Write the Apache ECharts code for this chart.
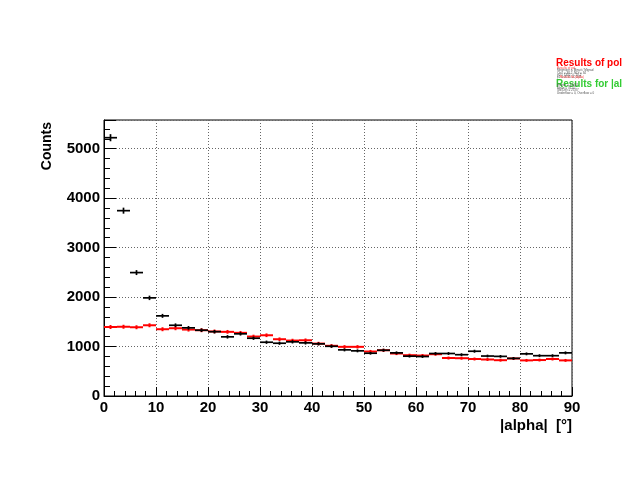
<!DOCTYPE html>
<html>
<head>
<meta charset="utf-8">
<script src="https://cdn.jsdelivr.net/npm/echarts@6/dist/echarts.min.js"></script>
<style>html,body{margin:0;padding:0;background:#fff}#c{width:628px;height:486px}</style>
</head>
<body>
<div id="c"></div>
<script>
// bin centres (|alpha| in degrees, bin width 2.5)
const binCenters = [1.25,3.75,6.25,8.75,11.25,13.75,16.25,18.75,21.25,23.75,26.25,28.75,31.25,33.75,36.25,38.75,41.25,43.75,46.25,48.75,51.25,53.75,56.25,58.75,61.25,63.75,66.25,68.75,71.25,73.75,76.25,78.75,81.25,83.75,86.25,88.75];
const binHalfWidth = 1.25;
// data (black points)
const dataCounts = [5222,3747,2495,1984,1620,1430,1378,1330,1300,1196,1257,1168,1087,1067,1095,1074,1054,1005,933,913,865,925,872,805,798,859,859,835,905,808,801,761,852,815,815,872];
const dataErrors = [72,61,50,45,40,38,37,36,36,35,35,34,33,33,33,33,32,32,31,30,29,30,30,28,28,29,29,29,30,28,28,28,29,29,29,30];
// reference / fit histogram (red)
const refCounts = [1395,1400,1390,1430,1350,1370,1343,1330,1305,1297,1277,1202,1228,1148,1121,1127,1060,1015,994,994,899,925,859,825,818,845,768,764,748,738,724,758,720,727,748,720];
const refErrors = [40,40,40,40,40,40,40,40,38,38,38,37,37,36,36,36,35,34,34,34,32,32,32,31,31,31,30,30,30,30,29,30,29,29,30,29];
const xTicks = [0,10,20,30,40,50,60,70,80,90];
const yTicks = [0,1000,2000,3000,4000,5000];

function errRender(color, width) {
  return function (params, api) {
    const x = api.value(0), y = api.value(1), e = api.value(2);
    const pL = api.coord([x - binHalfWidth, y]);
    const pR = api.coord([x + binHalfWidth, y]);
    const pT = api.coord([x, y + e]);
    const pB = api.coord([x, y - e]);
    return {
      type: 'group',
      children: [
        {type: 'line', shape: {x1: pL[0], y1: pL[1], x2: pR[0], y2: pR[1]}, style: {stroke: color, lineWidth: width}},
        {type: 'line', shape: {x1: pT[0], y1: pT[1], x2: pB[0], y2: pB[1]}, style: {stroke: color, lineWidth: width}}
      ]
    };
  };
}

const chart = echarts.init(document.getElementById('c'), null, {renderer: 'canvas'});
const font = 'Liberation Sans, Arial, Helvetica, sans-serif';
const smallLines1 = ['Minimizer is Minuit / Migrad', 'Chi2 = 38.2, NDf = 34', 'p0 = 1432 +/- 10.2', 'p1 = -8.15 +/- 0.41'];
const smallLines2 = ['Entries = 52431', 'Mean = 31.42', 'Std Dev = 25.87', 'Underflow = 0, Overflow = 0'];

chart.setOption({
  animation: false,
  backgroundColor: '#fff',
  grid: {left: 104, right: 56, top: 120, bottom: 90, show: true, borderColor: '#000', borderWidth: 1, containLabel: false},
  xAxis: {
    type: 'value', min: 0, max: 90, interval: 10,
    axisLine: {show: true, onZero: false, lineStyle: {color: '#000', width: 1}},
    axisTick: {show: true, inside: true, length: 9, lineStyle: {color: '#000'}},
    minorTick: {show: true, splitNumber: 5, length: 5, lineStyle: {color: '#000'}},
    splitLine: {show: true, lineStyle: {color: '#666', type: [1, 2], width: 1}},
    axisLabel: {color: '#000', fontFamily: font, fontWeight: 'bold', fontSize: 15, margin: 4,
      formatter: v => (xTicks.indexOf(v) >= 0 ? String(v) : '')}
  },
  yAxis: {
    type: 'value', min: 0, max: 5580, interval: 1000,
    axisLine: {show: true, onZero: false, lineStyle: {color: '#000', width: 1}},
    axisTick: {show: true, inside: true, length: 12, lineStyle: {color: '#000'}},
    minorTick: {show: true, splitNumber: 5, length: 6, lineStyle: {color: '#000'}},
    splitLine: {show: true, lineStyle: {color: '#666', type: [1, 2], width: 1}},
    axisLabel: {color: '#000', fontFamily: font, fontWeight: 'bold', fontSize: 15, margin: 4, showMaxLabel: false,
      formatter: v => (yTicks.indexOf(v) >= 0 ? String(v) : '')}
  },
  series: [
    {type: 'custom', name: 'Results of pol', renderItem: errRender('#ff0000', 2), z: 2,
      data: binCenters.map((x, i) => [x, refCounts[i], refErrors[i]])},
    {type: 'custom', name: 'data', renderItem: errRender('#000000', 1.7), z: 3,
      data: binCenters.map((x, i) => [x, dataCounts[i], dataErrors[i]])}
  ],
  graphic: [
    {type: 'text', x: 47, y: 122, rotation: Math.PI / 2,
      style: {text: 'Counts', fontFamily: font, fontWeight: 'bold', fontSize: 14, fill: '#000', align: 'right', verticalAlign: 'middle'}},
    {type: 'text', x: 572, y: 426,
      style: {text: '|alpha|  [°]', fontFamily: font, fontWeight: 'bold', fontSize: 15, fill: '#000', align: 'right', verticalAlign: 'middle'}},
    {type: 'text', x: 556, y: 63,
      style: {text: 'Results of pol', fontFamily: font, fontWeight: 'bold', fontSize: 10, fill: '#ff0000', align: 'left', verticalAlign: 'middle'}},
    {type: 'text', x: 557, y: 68.5, style: {text: 'Results of pol', fontFamily: font, fontSize: 3, fill: '#ff4444', verticalAlign: 'middle'}},
    ...smallLines1.map((t, i) => ({type: 'text', x: 557, y: 70.5 + i * 2.3, style: {text: t, fontFamily: font, fontSize: 3, fill: '#555', verticalAlign: 'middle'}})),
    {type: 'text', x: 560, y: 77, style: {text: 'Results for |alpha|', fontFamily: font, fontSize: 3, fill: '#ff4444', verticalAlign: 'middle'}},
    {type: 'text', x: 556, y: 84,
      style: {text: 'Results for |al', fontFamily: font, fontWeight: 'bold', fontSize: 10, fill: '#33cc33', align: 'left', verticalAlign: 'middle'}},
    ...smallLines2.map((t, i) => ({type: 'text', x: 557, y: 85.5 + i * 2.5, style: {text: t, fontFamily: font, fontSize: 3, fill: '#555', verticalAlign: 'middle'}}))
  ]
});
</script>
</body>
</html>
